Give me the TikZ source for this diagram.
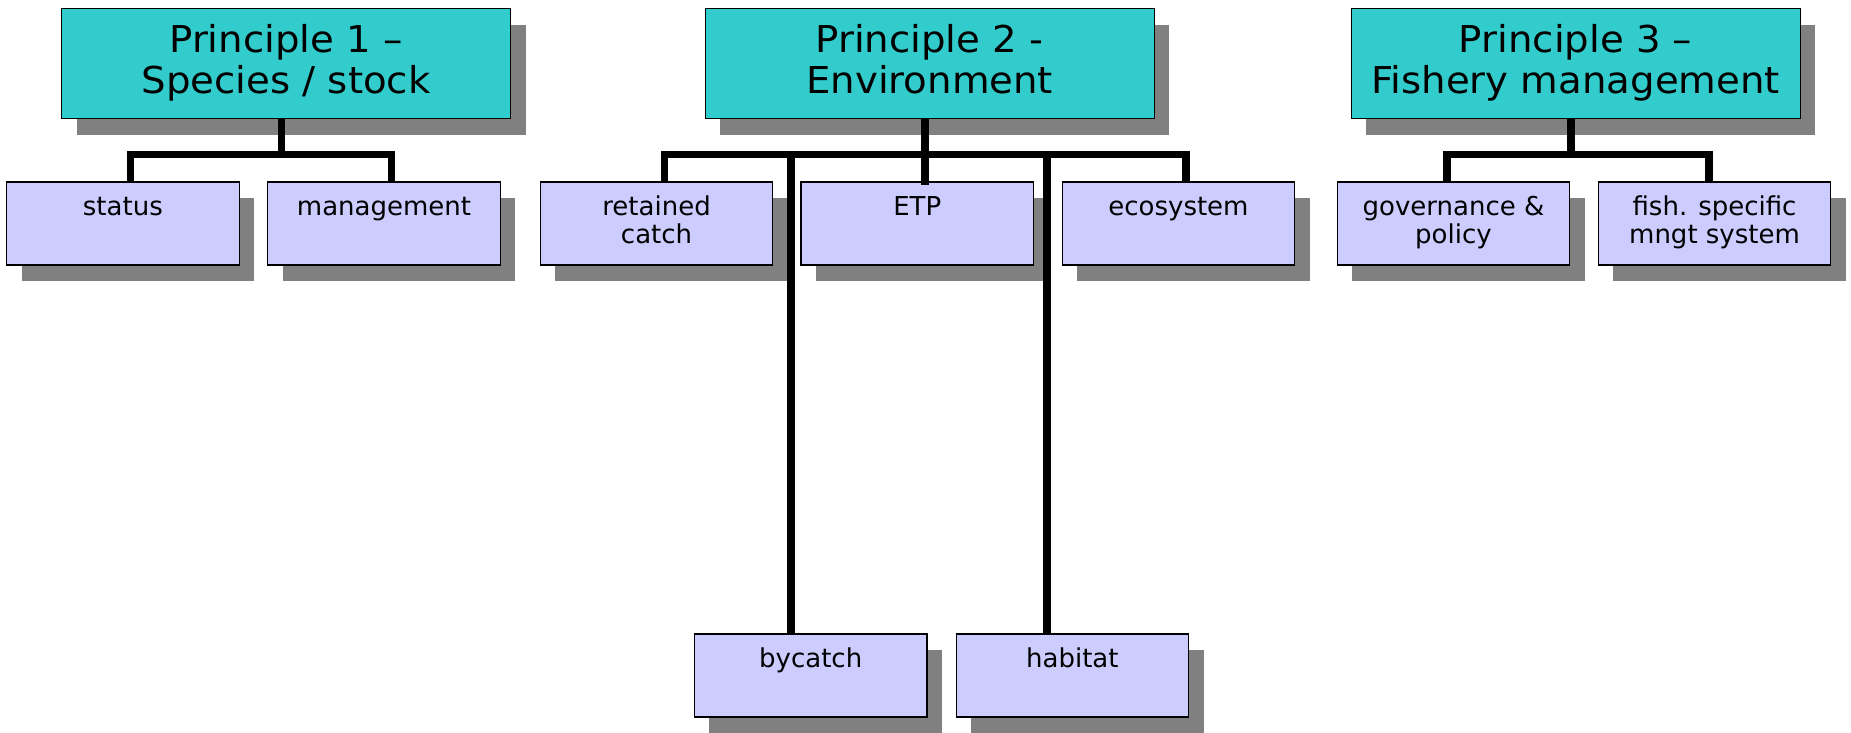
\documentclass[tikz,border=0pt]{standalone}
\usepackage{fontspec}
\setmainfont{DejaVu Sans}
\newfontfamily\titlefont{DejaVu Sans}[FakeStretch=1.045]
\usetikzlibrary{shadows}
\definecolor{titlefill}{HTML}{33CCCC}
\definecolor{itemfill}{HTML}{CCCCFF}
\definecolor{shadegray}{HTML}{808080}
\newcommand{\titletext}[1]{\parbox[c][110pt][t]{449pt}{\centering\titlefont\fontsize{37pt}{41pt}\selectfont\rule{0pt}{43.7pt}#1\par}}
\newcommand{\itemtext}[1]{\parbox[c][83pt][t]{232.5pt}{\centering\fontsize{26pt}{28.3pt}\selectfont\rule{0pt}{33.7pt}#1\par}}
\begin{document}
\begin{tikzpicture}[x=1pt,y=-1pt,
  titlebox/.style={draw=black, line width=1.2pt, fill=titlefill, inner sep=0pt, anchor=north west,
    general shadow={fill=shadegray, shadow xshift=15pt, shadow yshift=-16pt}},
  itembox/.style={draw=black, line width=1.2pt, fill=itemfill, inner sep=0pt, anchor=north west,
    general shadow={fill=shadegray, shadow xshift=15pt, shadow yshift=-16pt}},
  conn/.style={draw=black, line width=7.5pt}]
\fill[white] (0,0) rectangle (1851,732);
\useasboundingbox (0,0) rectangle (1851,732);

% principles
\node[titlebox] (p1) at (61,8) {\titletext{Principle 1 –\\Species / stock}};
\node[titlebox] (p2) at (704.5,8) {\titletext{Principle 2 -\\Environment}};
\node[titlebox] (p3) at (1350.5,8) {\titletext{Principle 3 –\\Fishery management}};

% items
\node[itembox] (status) at (6,181.3) {\itemtext{status}};
\node[itembox] (mgmt) at (267.2,181.3) {\itemtext{management}};
\node[itembox] (retained) at (539.7,181.3) {\itemtext{retained\\catch}};
\node[itembox] (etp) at (800.4,181.3) {\itemtext{ETP}};
\node[itembox] (eco) at (1061.6,181.3) {\itemtext{ecosystem}};
\node[itembox] (gov) at (1336.6,181.3) {\itemtext{governance \&\\policy}};
\node[itembox] (fish) at (1597.7,181.3) {\itemtext{fish. specific\\mngt system}};
\node[itembox] (bycatch) at (693.8,633.3) {\itemtext{bycatch}};
\node[itembox] (habitat) at (955.5,633.3) {\itemtext{habitat}};

% connectors, principle 1
\draw[conn] ([xshift=-4.4pt]p1.south) -- ++(0,36.5);
\draw[conn] ([xshift=7.6pt]status.north) -- ++(0,-26.8) -| ([xshift=7.6pt]mgmt.north);
% principle 2
\draw[conn] ([xshift=-4.6pt]p2.south) -- ([xshift=7.75pt,yshift=-4pt]etp.north);
\draw[conn] ([xshift=7.75pt]retained.north) -- ++(0,-26.8) -| ([xshift=7.75pt]eco.north);
\draw[conn] ([xshift=-19.85pt]bycatch.north) -- ++(0,-478.8);
\draw[conn] ([xshift=-25.45pt]habitat.north) -- ++(0,-478.8);
% principle 3
\draw[conn] ([xshift=-4.4pt]p3.south) -- ++(0,36.5);
\draw[conn] ([xshift=-6.25pt]gov.north) -- ++(0,-26.8) -| ([xshift=-5.5pt]fish.north);
\end{tikzpicture}
\end{document}
